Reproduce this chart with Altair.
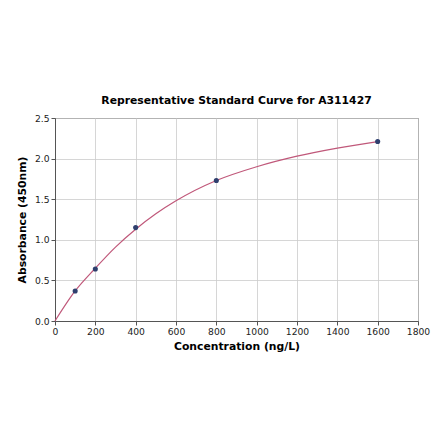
import pandas as pd
import altair as alt

# measured standards
CONC = [100, 200, 400, 800, 1600]
ABS = [0.37, 0.64, 1.15, 1.73, 2.21]

# fitted curve
CURVE_CONC = [0, 100, 200, 300, 400, 500, 600, 800, 1000, 1200, 1400, 1600]
CURVE_ABS = [0.0, 0.37, 0.65, 0.91, 1.13, 1.32, 1.48, 1.73, 1.90, 2.03, 2.13, 2.21]

FONT = "DejaVu Sans"
LINE_COLOR = "#c0587a"
POINT_COLOR = "#2f3f6e"

df_pts = pd.DataFrame({"conc": CONC, "abs": ABS})
df_curve = pd.DataFrame({"conc": CURVE_CONC, "abs": CURVE_ABS})

x_enc = alt.X("conc:Q").scale(domain=[0, 1800], nice=False).axis(
    values=list(range(0, 1801, 200)),
    format="d",
    labelOverlap=False,
    labelFlush=False,
    title="Concentration (ng/L)",
)
y_enc = alt.Y("abs:Q").scale(domain=[0, 2.5], nice=False).axis(
    values=[0, 0.5, 1.0, 1.5, 2.0, 2.5],
    format=".1f",
    labelOverlap=False,
    labelFlush=False,
    title="Absorbance (450nm)",
)

curve = (
    alt.Chart(df_curve)
    .mark_line(color=LINE_COLOR, strokeWidth=1.2, interpolate="monotone")
    .encode(x=x_enc, y=y_enc)
)

points = (
    alt.Chart(df_pts)
    .mark_circle(color=POINT_COLOR, size=26, opacity=1)
    .encode(x="conc:Q", y="abs:Q")
)

chart = (
    (curve + points)
    .properties(
        width=363,
        height=203,
        title="Representative Standard Curve for A311427",
        autosize=alt.AutoSizeParams(type="none"),
        padding={"left": 47, "top": 110, "right": 14, "bottom": 100},
    )
    .configure_view(stroke="#555555", strokeWidth=1)
    .configure_axis(
        labelFont=FONT,
        titleFont=FONT,
        labelFontSize=9.2,
        titleFontSize=10.8,
        titleFontWeight="bold",
        labelColor="#222222",
        titleColor="#000000",
        domainColor="#555555",
        tickColor="#555555",
        tickSize=4,
        gridColor="#cccccc",
        gridWidth=0.8,
        labelPadding=2,
    )
    .configure_axisX(titlePadding=4)
    .configure_axisY(titlePadding=7)
    .configure_title(
        font=FONT, fontSize=10.8, fontWeight="bold", color="#000000", offset=8
    )
)

chart.save("out.html", embed_options={"renderer": "svg", "actions": False})
